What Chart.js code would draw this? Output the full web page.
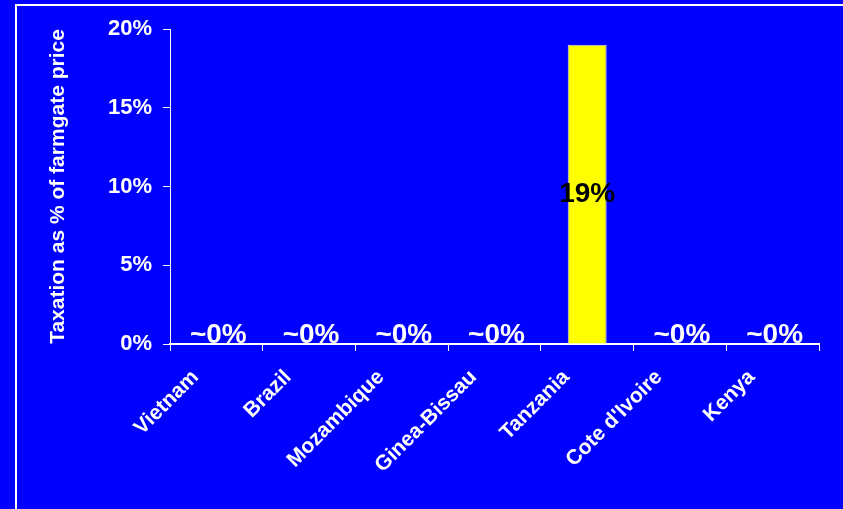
<!DOCTYPE html>
<html>
<head>
<meta charset="utf-8">
<script src="https://cdn.jsdelivr.net/npm/chart.js@4"></script>
<style>
  html, body { margin: 0; padding: 0; background: #0000ff; }
  #wrap { width: 843px; height: 509px; }
</style>
</head>
<body>
<div id="wrap"><canvas id="taxChart" width="843" height="509"></canvas></div>
<script>
const countries = ["Vietnam", "Brazil", "Mozambique", "Ginea-Bissau", "Tanzania", "Cote d'Ivoire", "Kenya"];
const taxation = [0, 0, 0, 0, 19, 0, 0];
const valueLabels = ["~0%", "~0%", "~0%", "~0%", "19%", "~0%", "~0%"];
const yTicks = [0, 5, 10, 15, 20];

// blue slide background + white frame
const backdrop = {
  id: "backdrop",
  beforeDraw(chart) {
    const ctx = chart.ctx;
    ctx.save();
    ctx.fillStyle = "#0000ff";
    ctx.fillRect(0, 0, chart.width, chart.height);
    ctx.strokeStyle = "#ffffff";
    ctx.lineWidth = 2;
    ctx.strokeRect(16, 5, chart.width + 20, chart.height + 20);
    ctx.restore();
  }
};

// value labels on the bars
const barLabels = {
  id: "barLabels",
  afterDatasetsDraw(chart) {
    const ctx = chart.ctx;
    const meta = chart.getDatasetMeta(0);
    ctx.save();
    ctx.font = "bold 28px 'Liberation Sans', Arial, sans-serif";
    ctx.textAlign = "center";
    meta.data.forEach((bar, i) => {
      if (taxation[i] > 0) {
        ctx.fillStyle = "#000000";
        ctx.textBaseline = "middle";
        ctx.fillText(valueLabels[i], bar.x, (bar.y + bar.base) / 2);
      } else {
        ctx.fillStyle = "#ffffff";
        ctx.textBaseline = "alphabetic";
        ctx.fillText(valueLabels[i], bar.x + 2, bar.base - 1);
      }
    });
    ctx.restore();
  }
};

new Chart(document.getElementById("taxChart"), {
  type: "bar",
  data: {
    labels: countries,
    datasets: [{
      data: taxation,
      backgroundColor: "#ffff00",
      borderColor: "#d8d8d8",
      borderWidth: 1,
      barPercentage: 0.42,
      categoryPercentage: 1
    }]
  },
  options: {
    responsive: false,
    animation: false,
    devicePixelRatio: 1,
    layout: { padding: { left: 0, top: 29, right: 24, bottom: 0 } },
    plugins: { legend: { display: false }, tooltip: { enabled: false } },
    scales: {
      x: {
        grid: { display: true, drawOnChartArea: false, color: "#ffffff", tickLength: 7, offset: true },
        border: { color: "#ffffff", width: 2 },
        ticks: {
          color: "#ffffff",
          font: { family: "'Liberation Sans', Arial, sans-serif", size: 21, weight: "bold" },
          minRotation: 45,
          maxRotation: 45,
          padding: 14,
          labelOffset: -21
        },
        afterFit(scale) { scale.height = 165; }
      },
      y: {
        min: 0,
        max: 20,
        afterBuildTicks(scale) { scale.ticks = yTicks.map(v => ({ value: v })); },
        grid: { display: true, drawOnChartArea: false, color: "#ffffff", tickLength: 7 },
        border: { color: "#ffffff", width: 1 },
        ticks: {
          color: "#ffffff",
          font: { family: "'Liberation Sans', Arial, sans-serif", size: 22, weight: "bold" },
          padding: 11,
          callback: v => v + "%"
        },
        title: {
          display: true,
          text: "Taxation as % of farmgate price",
          color: "#ffffff",
          font: { family: "'Liberation Sans', Arial, sans-serif", size: 21, weight: "bold" },
          padding: { top: 46, bottom: 0 }
        },
        afterFit(scale) { scale.width = 170; }
      }
    }
  },
  plugins: [backdrop, barLabels]
});
</script>
</body>
</html>
